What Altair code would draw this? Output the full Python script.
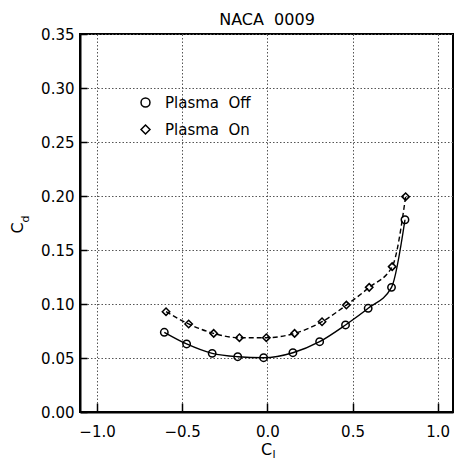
import altair as alt
import pandas as pd

# ---- data ----
cl_off = [-0.605, -0.474, -0.324, -0.174, -0.022, 0.150, 0.307, 0.459, 0.592, 0.729, 0.808]
cd_off = [0.0738, 0.0630, 0.0543, 0.0512, 0.0503, 0.0549, 0.0651, 0.0806, 0.0960, 0.1154, 0.1780]
cl_on = [-0.595, -0.462, -0.315, -0.164, -0.006, 0.160, 0.321, 0.464, 0.598, 0.733, 0.812]
cd_on = [0.0929, 0.0815, 0.0728, 0.0688, 0.0688, 0.0728, 0.0836, 0.0990, 0.1154, 0.1346, 0.1994]
series = ["Plasma Off", "Plasma On"]
x_ticks = [-1.0, -0.5, 0.0, 0.5, 1.0]
y_ticks = [0.0, 0.05, 0.10, 0.15, 0.20, 0.25, 0.30, 0.35]
title_text = "NACA\u00a0\u00a00009"

df_off = pd.DataFrame({"cl": cl_off, "cd": cd_off, "s": series[0]})
df_on = pd.DataFrame({"cl": cl_on, "cd": cd_on, "s": series[1]})
df = pd.concat([df_off, df_on], ignore_index=True)

FONT = "DejaVu Sans"
xscale = alt.Scale(domain=[-1.1, 1.09], nice=False, zero=False)
yscale = alt.Scale(domain=[0, 0.35], nice=False, zero=False)

x_main = alt.X("cl:Q", scale=xscale,
               axis=alt.Axis(values=x_ticks, format=".1f", ticks=False, labelPadding=12,
                             title=None, orient="bottom"))
y_main = alt.Y("cd:Q", scale=yscale,
               axis=alt.Axis(values=y_ticks, format=".2f", ticks=False, labelPadding=6,
                             title=None, orient="left"))

line_off = alt.Chart(df_off).mark_line(color="black", strokeWidth=1.4,
                                       interpolate="monotone").encode(x=x_main, y=y_main)
line_on = alt.Chart(df_on).mark_line(color="black", strokeWidth=1.4, strokeDash=[5, 3],
                                     interpolate="monotone").encode(
    x=alt.X("cl:Q", scale=xscale, axis=None),
    y=alt.Y("cd:Q", scale=yscale, axis=None))

points = alt.Chart(df).mark_point(filled=False, color="black", strokeWidth=1.5, size=55,
                                  opacity=1).encode(
    x=alt.X("cl:Q", scale=xscale,
            axis=alt.Axis(values=x_ticks, orient="bottom", offset=-9, ticks=True, tickSize=9,
                          tickWidth=1.5, tickColor="black", labels=False, domain=False,
                          grid=False, title=None)),
    y=alt.Y("cd:Q", scale=yscale,
            axis=alt.Axis(values=y_ticks, orient="left", offset=-7, ticks=True, tickSize=7,
                          tickWidth=1.5, tickColor="black", labels=False, domain=False,
                          grid=False, title=None)),
    shape=alt.Shape("s:N", scale=alt.Scale(domain=series, range=["circle", "diamond"]),
                    legend=alt.Legend(orient="none", legendX=58, legendY=61, title=None,
                                      labelFont=FONT, labelFontSize=15, labelColor="black",
                                      labelExpr="replace(datum.label, ' ', '\u00a0\u00a0')",
                                      symbolSize=80, symbolStrokeColor="black",
                                      symbolStrokeWidth=1.5, symbolFillColor="white",
                                      rowPadding=11, labelOffset=12, padding=0)),
)

lbl = pd.DataFrame({"t": ["C", "l", "C", "d", title_text]})
title_mark = alt.Chart(lbl.iloc[[4]]).mark_text(font=FONT, fontSize=16, color="black",
                                                  baseline="alphabetic", align="center").encode(
    x=alt.value(187), y=alt.value(-9), text="t:N")
xt = alt.Chart(lbl.iloc[[0]]).mark_text(font=FONT, fontSize=16, color="black", baseline="middle",
                                          align="center").encode(
    x=alt.value(186.7), y=alt.value(416), text="t:N")
xs = alt.Chart(lbl.iloc[[1]]).mark_text(font=FONT, fontSize=11, color="black", baseline="middle",
                                          align="center").encode(
    x=alt.value(194), y=alt.value(421), text="t:N")
yt = alt.Chart(lbl.iloc[[2]]).mark_text(font=FONT, fontSize=16, color="black", baseline="middle",
                                          align="center", angle=270).encode(
    x=alt.value(-62), y=alt.value(194), text="t:N")
ys = alt.Chart(lbl.iloc[[3]]).mark_text(font=FONT, fontSize=11, color="black", baseline="middle",
                                          align="center", angle=270).encode(
    x=alt.value(-54), y=alt.value(185), text="t:N")

chart = alt.layer(line_off, line_on, points, title_mark, xt, xs, yt, ys).resolve_axis(
    x="independent", y="independent"
).properties(
    width=373, height=378,
    background="white",
    autosize=alt.AutoSizeParams(type="none"),
    padding={"left": 80, "top": 34, "right": 3, "bottom": 55},
).configure_view(
    stroke="black", strokeWidth=2
).configure_axis(
    domainColor="black", domainWidth=2,
    gridColor="#555", gridDash=[1.5, 2], gridWidth=1,
    labelFont=FONT, labelFontSize=15, labelColor="black",
)

chart.save("out.html", embed_options={"renderer": "svg", "actions": False})
